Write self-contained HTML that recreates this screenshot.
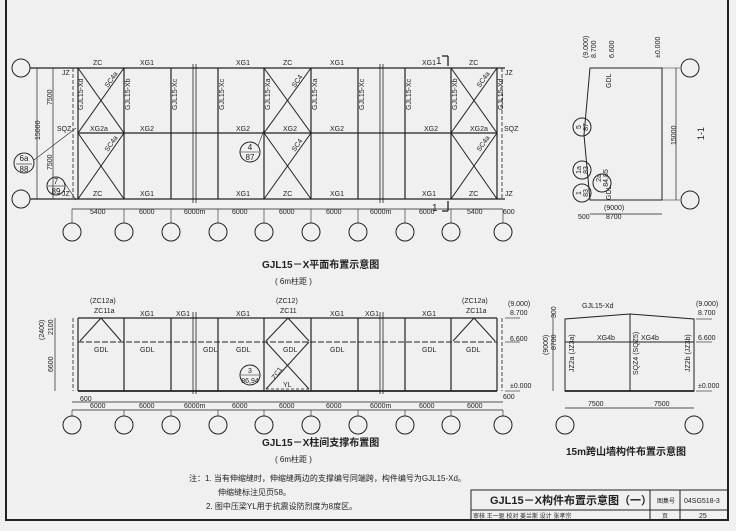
<!DOCTYPE html>
<html><head><meta charset="utf-8"><style>
html,body{margin:0;padding:0;background:#f0f0f0;}
svg{display:block;}
text{font-family:"Liberation Sans","Noto Sans CJK SC",sans-serif;fill:#222;}
.s{font-size:7px;}
.m{font-size:8px;}
</style></head><body>
<svg id="g" width="736" height="531" viewBox="0 0 736 531" xmlns="http://www.w3.org/2000/svg" stroke="#222" fill="none" stroke-width="1">
<rect x="0" y="0" width="736" height="531" fill="#f0f0f0" stroke="none"/>
<line x1="6" y1="0" x2="6" y2="521" stroke-width="2"/>
<line x1="728" y1="0" x2="728" y2="521" stroke-width="2"/>
<line x1="6" y1="520" x2="728" y2="520" stroke-width="2"/>
<rect x="471" y="490" width="257" height="30"/>
<line x1="471" y1="510" x2="728" y2="510"/>
<line x1="680" y1="490" x2="680" y2="520"/><line x1="650" y1="490" x2="650" y2="520"/>
<g id="dyn"></g>
<g class="s" stroke="none">
<text x="93" y="65">ZC</text><text x="140" y="65">XG1</text><text x="236" y="65">XG1</text><text x="283" y="65">ZC</text><text x="330" y="65">XG1</text><text x="422" y="65">XG1</text><text x="469" y="65">ZC</text>
<text x="93" y="196">ZC</text><text x="140" y="196">XG1</text><text x="236" y="196">XG1</text><text x="283" y="196">ZC</text><text x="330" y="196">XG1</text><text x="422" y="196">XG1</text><text x="469" y="196">ZC</text>
<text x="90" y="131">XG2a</text><text x="140" y="131">XG2</text><text x="236" y="131">XG2</text><text x="283" y="131">XG2</text><text x="330" y="131">XG2</text><text x="424" y="131">XG2</text><text x="470" y="131">XG2a</text>
<text x="62" y="75">JZ</text><text x="62" y="196">JZ</text><text x="57" y="131">SQZ</text><text x="504" y="131">SQZ</text><text x="505" y="75">JZ</text><text x="505" y="196">JZ</text>
<text x="90" y="214">5400</text><text x="139" y="214">6000</text><text x="184" y="214">6000m</text><text x="232" y="214">6000</text><text x="279" y="214">6000</text><text x="326" y="214">6000</text><text x="370" y="214">6000m</text><text x="419" y="214">6000</text><text x="467" y="214">5400</text><text x="503" y="214">600</text>
<text transform="translate(40,140) rotate(-90)">15000</text>
<text transform="translate(52,105) rotate(-90)">7500</text><text transform="translate(52,170) rotate(-90)">7500</text>
<text transform="translate(83,110) rotate(-90)">GJL15-Xd</text><text transform="translate(130,110) rotate(-90)">GJL15-Xb</text><text transform="translate(177,110) rotate(-90)">GJL15-Xc</text><text transform="translate(224,110) rotate(-90)">GJL15-Xc</text><text transform="translate(270,110) rotate(-90)">GJL15-Xa</text><text transform="translate(317,110) rotate(-90)">GJL15-Xa</text><text transform="translate(364,110) rotate(-90)">GJL15-Xc</text><text transform="translate(411,110) rotate(-90)">GJL15-Xc</text><text transform="translate(457,110) rotate(-90)">GJL15-Xb</text><text transform="translate(503,110) rotate(-90)">GJL15-Xd</text>
<text transform="translate(108,88) rotate(-55)">SC4a</text><text transform="translate(108,152) rotate(-55)">SC4a</text><text transform="translate(295,88) rotate(-55)">SC4</text><text transform="translate(295,152) rotate(-55)">SC4</text><text transform="translate(480,88) rotate(-55)">SC4a</text><text transform="translate(480,152) rotate(-55)">SC4a</text>
<text x="436" y="64" font-size="10">1</text><text x="432" y="211" font-size="10">1</text>
</g>
<g class="m" stroke="none" text-anchor="middle">
<text x="24" y="161">6a</text><text x="24" y="172">88</text>
<text x="56" y="184">7</text><text x="56" y="194">89</text>
<text x="250" y="150">4</text><text x="250" y="160">87</text>
</g>
<g class="m" stroke="none">
<text x="262" y="268" font-size="10" font-weight="bold">GJL15－X平面布置示意图</text>
<text x="275" y="284" font-size="8">( 6m柱距 )</text>
<text x="262" y="446" font-size="10" font-weight="bold">GJL15－X柱间支撑布置图</text>
<text x="275" y="462" font-size="8">( 6m柱距 )</text>
<text x="566" y="455" font-size="10" font-weight="bold">15m跨山墙构件布置示意图</text>
</g>
<g class="s" stroke="none">
<text transform="translate(588,58) rotate(-90)">(9.000)</text><text transform="translate(596,58) rotate(-90)">8.700</text>
<text transform="translate(614,58) rotate(-90)">6.600</text><text transform="translate(660,58) rotate(-90)">±0.000</text>
<text transform="translate(676,145) rotate(-90)">15000</text>
<text x="604" y="210">(9000)</text><text x="606" y="219">8700</text><text x="578" y="219">500</text>
<text transform="translate(611,88) rotate(-90)">GDL</text><text transform="translate(611,200) rotate(-90)">GDL</text>
<text transform="translate(704,140) rotate(-90)" font-size="9">1-1</text>
</g>
<g class="s" stroke="none" text-anchor="middle">
<text transform="translate(581,127) rotate(-90)">5</text><text transform="translate(588,127) rotate(-90)">87</text>
<text transform="translate(581,170) rotate(-90)">1a</text><text transform="translate(588,170) rotate(-90)">83</text>
<text transform="translate(581,193) rotate(-90)">1</text><text transform="translate(588,193) rotate(-90)">83</text>
<text transform="translate(601,178) rotate(-90)">2a</text><text transform="translate(608,178) rotate(-90)">84,85</text>
</g>
<g class="s" stroke="none">
<text x="90" y="303">(ZC12a)</text><text x="94" y="313">ZC11a</text>
<text x="276" y="303">(ZC12)</text><text x="280" y="313">ZC11</text>
<text x="462" y="303">(ZC12a)</text><text x="466" y="313">ZC11a</text>
<text x="140" y="316">XG1</text><text x="176" y="316">XG1</text><text x="236" y="316">XG1</text><text x="330" y="316">XG1</text><text x="365" y="316">XG1</text><text x="422" y="316">XG1</text>
<text x="94" y="352">GDL</text><text x="140" y="352">GDL</text><text x="203" y="352">GDL</text><text x="236" y="352">GDL</text><text x="283" y="352">GDL</text><text x="330" y="352">GDL</text><text x="422" y="352">GDL</text><text x="466" y="352">GDL</text>
<text x="283" y="387">YL</text><text transform="translate(275,380) rotate(-55)">ZC1</text>
<text x="90" y="408">6000</text><text x="139" y="408">6000</text><text x="184" y="408">6000m</text><text x="232" y="408">6000</text><text x="279" y="408">6000</text><text x="326" y="408">6000</text><text x="370" y="408">6000m</text><text x="419" y="408">6000</text><text x="467" y="408">6000</text>
<text x="80" y="401">600</text><text x="503" y="399">600</text>
<text transform="translate(44,340) rotate(-90)">(2400)</text><text transform="translate(53,335) rotate(-90)">2100</text><text transform="translate(53,372) rotate(-90)">6600</text>
<text x="508" y="306">(9.000)</text><text x="510" y="315">8.700</text><text x="510" y="341">6.600</text><text x="510" y="388">±0.000</text>
</g>
<g class="s" stroke="none" text-anchor="middle"><text x="250" y="373">3</text><text x="250" y="383">86,94</text></g>
<g class="s" stroke="none">
<text x="582" y="308">GJL15-Xd</text><text x="597" y="340">XG4b</text><text x="641" y="340">XG4b</text>
<text x="696" y="306">(9.000)</text><text x="698" y="315">8.700</text><text x="698" y="340">6.600</text><text x="698" y="388">±0.000</text>
<text x="588" y="406">7500</text><text x="654" y="406">7500</text>
<text transform="translate(548,355) rotate(-90)">(9000)</text><text transform="translate(556,350) rotate(-90)">8700</text><text transform="translate(556,318) rotate(-90)">300</text>
<text transform="translate(574,372) rotate(-90)">JZ2a (JZ3a)</text><text transform="translate(638,375) rotate(-90)">SQZ4 (SQZ5)</text><text transform="translate(690,372) rotate(-90)">JZ2b (JZ3b)</text>
</g>
<g font-size="8" stroke="none">
<text x="189" y="481">注：1.  当有伸缩缝时，伸缩缝两边的支撑编号同端跨，构件编号为GJL15-Xd。</text>
<text x="218" y="495">伸缩缝标注见页58。</text>
<text x="206" y="509">2.  图中压梁YL用于抗震设防烈度为8度区。</text>
<text x="490" y="504" font-size="11" font-weight="bold">GJL15－X构件布置示意图（一）</text>
<text x="657" y="503" font-size="6">图集号</text><text x="684" y="503" font-size="7">04SG518-3</text>
<text x="473" y="518" font-size="6">审核 王一驱 校对 姜兰斯 设计 张孝宗</text>
<text x="662" y="518" font-size="6">页</text><text x="699" y="518" font-size="7">25</text>
</g>
</svg>
<script>
var d=document.getElementById('dyn'),s='';
function L(a,b,c,e,w,da){s+='<line x1="'+a+'" y1="'+b+'" x2="'+c+'" y2="'+e+'"'+(w?' stroke-width="'+w+'"':'')+(da?' stroke-dasharray="'+da+'"':'')+'/>';}
function C(x,y,r){s+='<circle cx="'+x+'" cy="'+y+'" r="'+(r||9)+'"/>';}
var F=[78,124,171,218,264,311,358,405,451,497],A=[72,124,171,218,264,311,358,405,451,503];
L(30,68,505,68,1.3);L(78,133,497,133,1.3);L(30,199,505,199,1.3);
F.forEach(function(x){L(x,68,x,199,1.2);});L(73,68,73,199,0.8,'4,2');L(502,68,502,199,0.8,'4,2');
[193,380].forEach(function(x){L(x,64,x,203,0.8);L(x+3,64,x+3,203,0.8);});
[[78,124],[264,311],[451,497]].forEach(function(b){L(b[0],68,b[1],133);L(b[1],68,b[0],133);L(b[0],133,b[1],199);L(b[1],133,b[0],199);});
L(37,68,37,199,0.7);L(53,68,53,199,0.7);L(72,209,503,209,0.7);
A.forEach(function(x){C(x,232);L(x,209,x,223,0.6);});C(21,68);C(21,199);
C(24,163,10);L(16,164,32,164,0.6);C(56,186,9);L(48,186,64,186,0.6);C(250,152,10);L(241,152,259,152,0.6);
L(34,160,76,128,0.6);L(64,182,76,200,0.6);L(258,146,264,130,0.6);
L(442,56,448,56,1.3);L(448,56,448,66,1.3);L(442,211,448,211,1.3);L(448,201,448,211,1.3);
s+='<path d="M590,68 L662,68 L662,200 L590,200 L584,135 Z"/>';
L(662,68,680,68,0.6);L(662,200,680,200,0.6);L(676,68,676,200,0.7);C(690,68);C(690,200);
L(590,214,662,214,0.7);C(582,127,9);C(582,170,9);C(582,193,9);C(602,183,9);
L(582,127+0,582,127,0);
L(78,318,497,318,1.3);L(78,342,497,342,1,'6,2');L(78,391,497,391,1.8);
F.forEach(function(x){L(x,318,x,391,1.2);});L(73,318,73,391,0.8,'4,2');L(502,318,502,391,0.8,'4,2');
[193,380].forEach(function(x){L(x,312,x,394,0.8);L(x+3,312,x+3,394,0.8);});
[[80,101,121],[266,288,309],[453,474,495]].forEach(function(b){L(b[0],341,b[1],318);L(b[1],318,b[2],341);});
L(266,342,309,389);L(309,342,266,389);L(266,389,309,389,0.8,'3,2');
L(55,318,55,391,0.7);L(72,402,503,402,0.7);L(72,410,503,410,0.7);A.forEach(function(x){C(x,425);L(x,410,x,416,0.6);});
C(250,375,10);L(241,375,259,375,0.6);
L(505,318,520,318,0.6);L(505,342,520,342,0.6);L(505,391,520,391,0.6);
s+='<path d="M565,391 L565,319 L630,314 L694,319 L694,391 Z"/>';
L(565,342,694,342,1.1);L(630,314,630,391,1);L(565,391,694,391,1.8);
L(553,314,553,391,0.7);L(565,408,694,408,0.7);C(565,425);C(694,425);
L(696,319,712,319,0.6);L(696,342,712,342,0.6);L(696,391,712,391,0.6);
d.innerHTML=s;
</script>
</body></html>
